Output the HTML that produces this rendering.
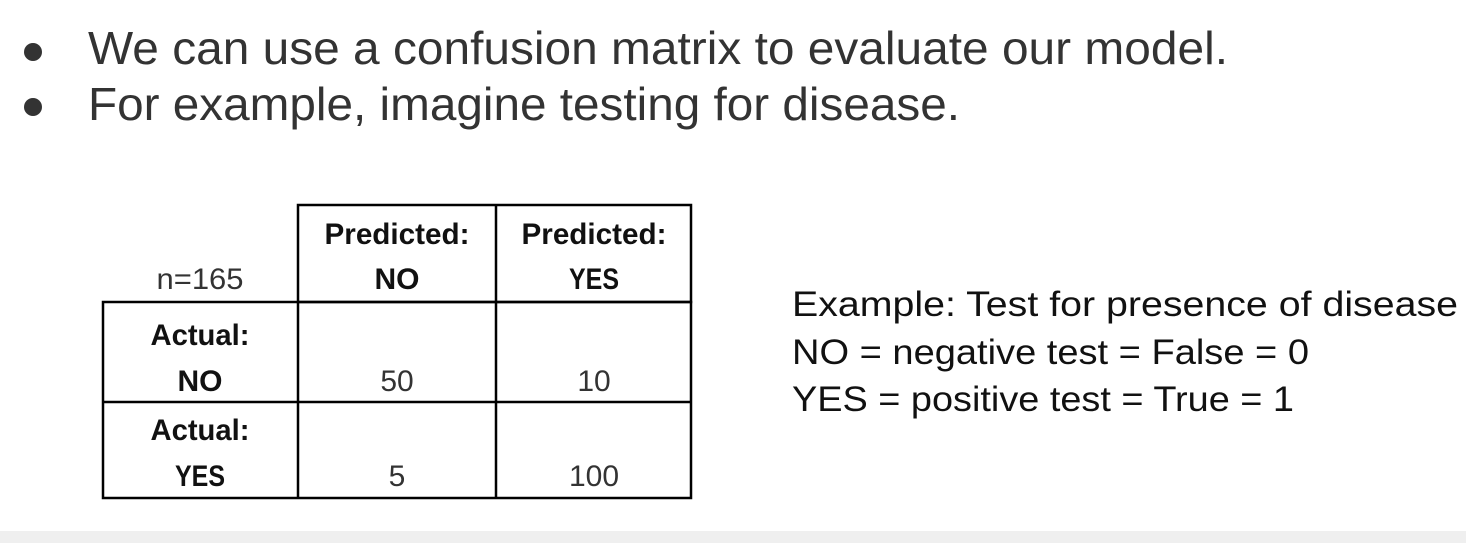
<!DOCTYPE html>
<html><head><meta charset="utf-8"><style>
html,body{margin:0;padding:0;background:#fff;width:1466px;height:543px;overflow:hidden}
svg text{font-family:"Liberation Sans",sans-serif}
</style></head><body>
<svg width="1466" height="543" viewBox="0 0 1466 543">
<rect x="0" y="531" width="1466" height="12" fill="#efefef"/>
<g fill="#333">
<circle cx="33" cy="52" r="9"/>
<circle cx="33" cy="107" r="9"/>
<text x="88" y="64" font-size="46" textLength="1140" lengthAdjust="spacingAndGlyphs">We can use a confusion matrix to evaluate our model.</text>
<text x="88" y="120" font-size="46" textLength="872" lengthAdjust="spacingAndGlyphs">For example, imagine testing for disease.</text>
</g>
<g stroke="#000" stroke-width="2.5" fill="none">
<rect x="298" y="205" width="393" height="97"/>
<rect x="103" y="302" width="588" height="196"/>
<line x1="496" y1="205" x2="496" y2="498"/>
<line x1="298" y1="302" x2="298" y2="498"/>
<line x1="103" y1="402" x2="691" y2="402"/>
</g>
<g font-size="30" text-anchor="middle" fill="#111">
<text x="200" y="289" fill="#333" textLength="87" lengthAdjust="spacingAndGlyphs">n=165</text>
<text x="397" y="244" font-weight="bold" textLength="145" lengthAdjust="spacingAndGlyphs">Predicted:</text>
<text x="397" y="289" font-weight="bold" textLength="45" lengthAdjust="spacingAndGlyphs">NO</text>
<text x="594" y="244" font-weight="bold" textLength="145" lengthAdjust="spacingAndGlyphs">Predicted:</text>
<text x="594" y="289" font-weight="bold" textLength="50" lengthAdjust="spacingAndGlyphs">YES</text>
<text x="200" y="345" font-weight="bold" textLength="99" lengthAdjust="spacingAndGlyphs">Actual:</text>
<text x="200" y="391" font-weight="bold" textLength="45" lengthAdjust="spacingAndGlyphs">NO</text>
<text x="200" y="440" font-weight="bold" textLength="99" lengthAdjust="spacingAndGlyphs">Actual:</text>
<text x="200" y="486" font-weight="bold" textLength="50" lengthAdjust="spacingAndGlyphs">YES</text>
<text x="397" y="391" fill="#333">50</text>
<text x="594" y="391" fill="#333">10</text>
<text x="397" y="486" fill="#333">5</text>
<text x="594" y="486" fill="#333">100</text>
</g>
<g font-size="35" fill="#111">
<text x="792" y="316" textLength="666" lengthAdjust="spacingAndGlyphs">Example: Test for presence of disease</text>
<text x="792" y="364" textLength="517" lengthAdjust="spacingAndGlyphs">NO = negative test = False = 0</text>
<text x="792" y="411" textLength="502" lengthAdjust="spacingAndGlyphs">YES = positive test = True = 1</text>
</g>
</svg>
</body></html>
